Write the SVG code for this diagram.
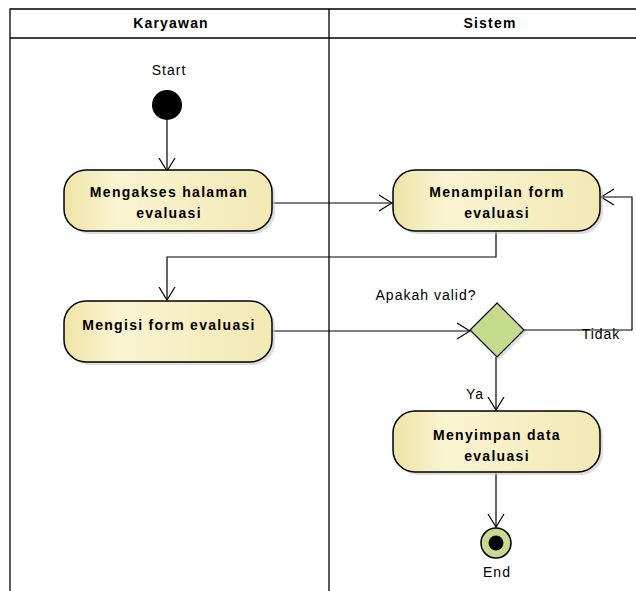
<svg xmlns="http://www.w3.org/2000/svg" width="636" height="591" viewBox="0 0 636 591">
<style>
.lane{fill:none;stroke:#000;stroke-width:1.3}
.hdr{font-family:"Liberation Sans",Arial,sans-serif;font-size:14px;font-weight:bold;fill:#000;text-anchor:middle;letter-spacing:1.2px}
.act{fill:url(#yel);stroke:#000;stroke-width:1.5}
.shd{fill:#c8c8c8;opacity:0.6}
.at{font-family:"Liberation Sans",Arial,sans-serif;font-size:14px;font-weight:bold;fill:#000;text-anchor:middle;letter-spacing:1.3px}
.lbl{font-family:"Liberation Sans",Arial,sans-serif;font-size:14px;fill:#000;text-anchor:middle;letter-spacing:1px}
.edge{fill:none;stroke:#000;stroke-width:1.2}
</style>
<defs>
<linearGradient id="yel" x1="0" y1="0" x2="1" y2="0">
<stop offset="0" stop-color="#efe4a6"/>
<stop offset="0.25" stop-color="#faf4d2"/>
<stop offset="1" stop-color="#f3e9b4"/>
</linearGradient>
<marker id="arr" markerWidth="14" markerHeight="18" refX="13" refY="9" orient="auto" markerUnits="userSpaceOnUse">
<path d="M0,1 L13,9 L0,17" fill="none" stroke="#000" stroke-width="1.2"/>
</marker>
</defs>
<rect width="636" height="591" fill="#fff"/>
<g id="lanes">
<path class="lane" d="M10,591 V9 H636 M10,38 H636 M329,9 V591"/>
<text class="hdr" x="171" y="28">Karyawan</text>
<text class="hdr" x="490" y="28">Sistem</text>
</g>
<g id="connectors">
<path class="edge" d="M167,120 V171" marker-end="url(#arr)"/>
<path class="edge" d="M272,203 H392" marker-end="url(#arr)"/>
<path class="edge" d="M496,231 V257 H167 V300" marker-end="url(#arr)"/>
<path class="edge" d="M272,331 H470" marker-end="url(#arr)"/>
<path class="edge" d="M524,330 H632 V197 H601" marker-end="url(#arr)"/>
<path class="edge" d="M496,357 V410" marker-end="url(#arr)"/>
<path class="edge" d="M496,473 V527" marker-end="url(#arr)"/>
<text class="lbl" x="426" y="300">Apakah valid?</text>
<text class="lbl" x="601" y="339">Tidak</text>
<text class="lbl" x="475" y="399">Ya</text>
</g>
<g id="start">
<text class="lbl" x="169" y="75">Start</text>
<circle cx="167" cy="105" r="15" fill="#000"/>
</g>
<g id="act1">
<rect class="shd" x="67" y="173" width="208" height="61" rx="22"/>
<rect class="act" x="64" y="170" width="208" height="61" rx="22"/>
<text class="at" x="169" y="197">Mengakses halaman</text>
<text class="at" x="169" y="218">evaluasi</text>
</g>
<g id="act2">
<rect class="shd" x="396" y="173" width="207" height="61" rx="22"/>
<rect class="act" x="393" y="170" width="207" height="61" rx="22"/>
<text class="at" x="497" y="197">Menampilan form</text>
<text class="at" x="497" y="218">evaluasi</text>
</g>
<g id="act3">
<rect class="shd" x="67" y="304" width="208" height="61" rx="22"/>
<rect class="act" x="64" y="301" width="208" height="61" rx="22"/>
<text class="at" x="169" y="330">Mengisi form evaluasi</text>
</g>
<g id="decision">
<path d="M499,306 L526,333 L499,360 L472,333 Z" fill="#c8c8c8" opacity="0.6"/>
<path d="M497,303 L524,330 L497,357 L470,330 Z" fill="#c5dc8e" stroke="#000" stroke-width="1.2"/>
</g>
<g id="act4">
<rect class="shd" x="396" y="414" width="207" height="61" rx="22"/>
<rect class="act" x="393" y="411" width="207" height="61" rx="22"/>
<text class="at" x="497" y="440">Menyimpan data</text>
<text class="at" x="497" y="461">evaluasi</text>
</g>
<g id="end">
<circle cx="496" cy="543" r="15" fill="#c5dc8e" stroke="#000" stroke-width="1.5"/>
<circle cx="496" cy="543" r="7.5" fill="#000"/>
<text class="lbl" x="497" y="577">End</text>
</g>
</svg>
